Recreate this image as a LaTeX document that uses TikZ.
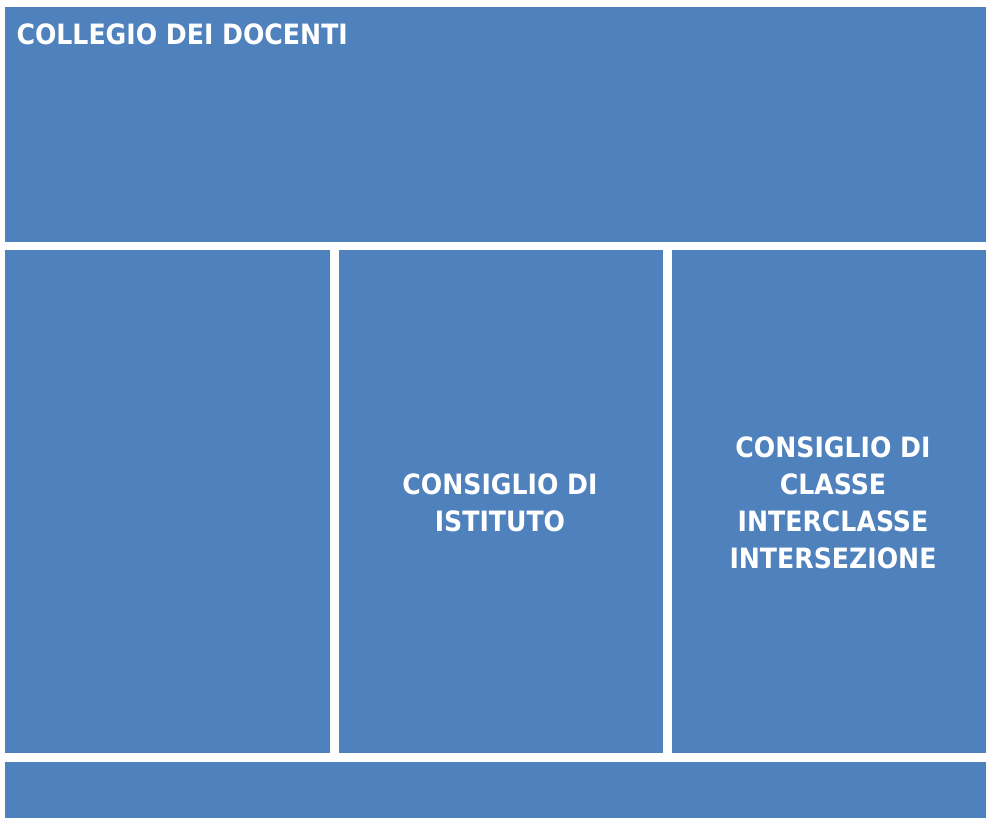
\documentclass[tikz,border=0pt]{standalone}
\usepackage{fontspec}
\setmainfont{DejaVu Sans Condensed}
\usepackage{xcolor}
\usepackage{tikz}
\definecolor{organo}{HTML}{4F81BD}
\tikzstyle{box} = [rectangle, fill=organo, inner sep=0pt, text=white, align=center]
\tikzstyle{label} = [text=white, font=\fontsize{28}{37}\selectfont\bfseries, align=center]

\begin{document}
\begin{tikzpicture}[x=1pt, y=-1pt]
\useasboundingbox (0,0) rectangle (986,818);
\node [box, minimum width=981pt, minimum height=235pt] (collegio) at (495.5,124.5) {};
\node [label, anchor=base west] (collegiotxt) at (13,45) {COLLEGIO DEI DOCENTI};
\node [box, minimum width=325pt, minimum height=503pt] (sinistra) at (167.5,501.5) {};
\node [box, minimum width=324pt, minimum height=503pt] (istituto) at (501,501.5) {};
\node [label] (istitutotxt) at (500,503) {CONSIGLIO DI\\ISTITUTO};
\node [box, minimum width=314pt, minimum height=503pt] (classe) at (829,501.5) {};
\node [label] (classetxt) at (833,503) {CONSIGLIO DI\\CLASSE\\INTERCLASSE\\INTERSEZIONE};
\node [box, minimum width=981pt, minimum height=56pt] (fondo) at (495.5,790) {};
\end{tikzpicture}
\end{document}
